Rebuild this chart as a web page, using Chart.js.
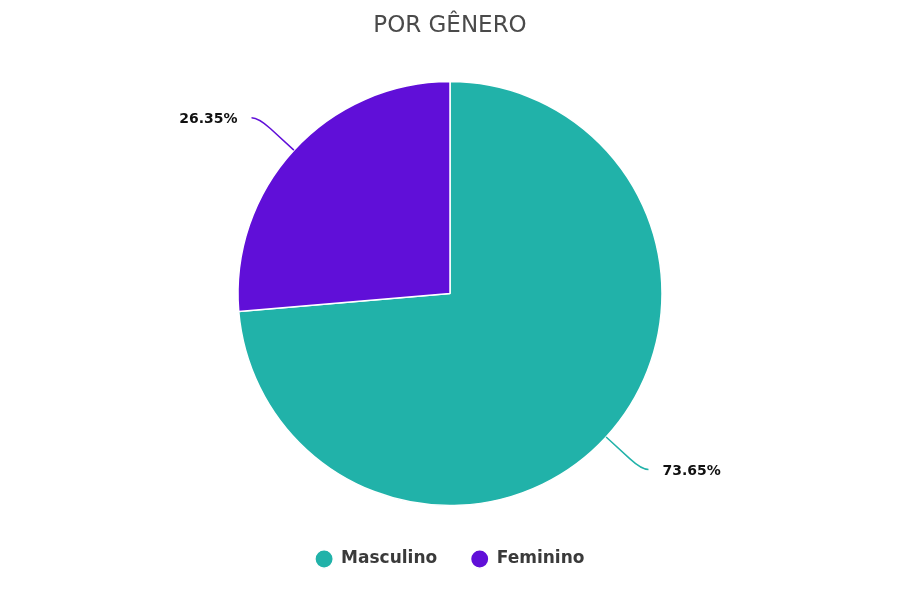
<!DOCTYPE html>
<html>
<head>
<meta charset="utf-8">
<script src="https://cdn.jsdelivr.net/npm/chart.js@4.4.0/dist/chart.umd.min.js"></script>
<style>
  html, body { margin: 0; padding: 0; background: #ffffff; }
  #wrap { width: 900px; height: 600px; }
</style>
</head>
<body>
<div id="wrap"><canvas id="c" width="900" height="600"></canvas></div>
<script>
const titleText = 'POR GÊNERO';
const categories = ['Masculino', 'Feminino'];
const shares = [73.65, 26.35];
const sliceColors = ['#21B2A9', '#600FD8'];
const valueLabels = ['73.65%', '26.35%'];

const legendFitPlugin = {
  id: 'legendFit',
  beforeUpdate(chart) {
    if (chart.legend && !chart.legend._patched) {
      const orig = chart.legend.fit;
      chart.legend.fit = function () {
        orig.call(this);
        this.height = 83.5;
      };
      chart.legend._patched = true;
    }
  }
};

const leaderPlugin = {
  id: 'leaders',
  afterDatasetsDraw(chart) {
    const ctx = chart.ctx;
    const meta = chart.getDatasetMeta(0);
    meta.data.forEach((arc, i) => {
      const p = arc.getProps(['x', 'y', 'startAngle', 'endAngle', 'outerRadius'], true);
      const mid = (p.startAngle + p.endAngle) / 2;
      const cos = Math.cos(mid), sin = Math.sin(mid);
      const r = p.outerRadius;
      const sign = cos >= 0 ? 1 : -1;
      const x0 = p.x + r * cos, y0 = p.y + r * sin;
      const xa = p.x + (r + 32) * cos, ya = p.y + (r + 32) * sin;
      const xc = p.x + (r + 48) * cos, yc = p.y + (r + 48) * sin;
      const xe = xc + sign * 7, ye = yc;
      ctx.save();
      ctx.strokeStyle = sliceColors[i];
      ctx.lineWidth = 1.5;
      ctx.beginPath();
      ctx.moveTo(x0, y0);
      ctx.lineTo(xa, ya);
      ctx.quadraticCurveTo(xc, yc, xe, ye);
      ctx.stroke();
      ctx.fillStyle = '#111111';
      ctx.font = 'bold 14px "DejaVu Sans"';
      ctx.textBaseline = 'middle';
      ctx.textAlign = sign > 0 ? 'left' : 'right';
      ctx.fillText(valueLabels[i], xe + sign * 14, ye + 2);
      ctx.restore();
    });
  }
};

new Chart(document.getElementById('c'), {
  type: 'pie',
  data: {
    labels: categories,
    datasets: [{
      data: shares,
      backgroundColor: sliceColors,
      borderColor: '#ffffff',
      borderWidth: 1.5,
      radius: 212
    }]
  },
  options: {
    responsive: false,
    animation: false,
    layout: { padding: { top: 0, bottom: 0, left: 0, right: 0 } },
    plugins: {
      title: {
        display: true,
        text: titleText,
        color: '#4a4a4a',
        font: { family: '"DejaVu Sans"', size: 23, weight: 'normal', lineHeight: 1.2 },
        padding: { top: 12.5, bottom: 30.5 }
      },
      legend: {
        display: true,
        position: 'bottom',
        labels: {
          usePointStyle: true,
          pointStyle: 'circle',
          boxWidth: 18,
          boxHeight: 13,
          padding: 34,
          color: '#3a3a3a',
          font: { family: '"DejaVu Sans"', size: 17, weight: 'bold' }
        }
      },
      tooltip: { enabled: false }
    }
  },
  plugins: [legendFitPlugin, leaderPlugin]
});
</script>
</body>
</html>
